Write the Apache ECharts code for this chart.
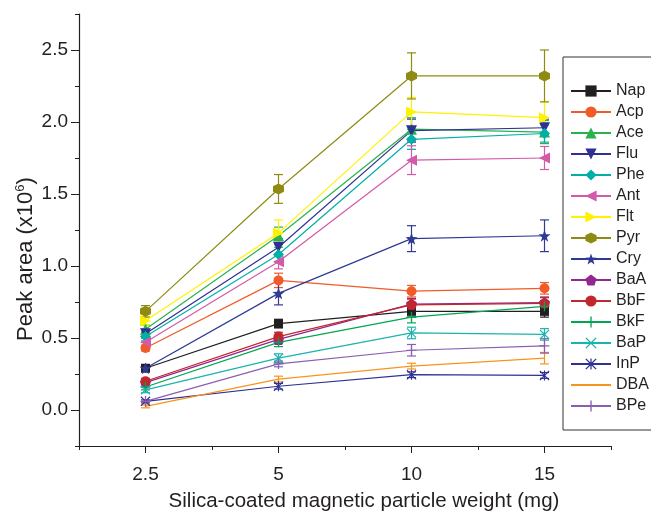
<!DOCTYPE html>
<html>
<head>
<meta charset="utf-8">
<script src="https://cdn.jsdelivr.net/npm/echarts@6/dist/echarts.min.js"></script>
<style>
  html, body { margin: 0; padding: 0; background: #fff; }
  #chart { width: 651px; height: 517px; }
</style>
</head>
<body>
<div id="chart"></div>
<script>
// x categories (sorbent weight, mg) placed at positions 1..4
const xLabels = ['2.5', '5', '10', '15']
const xPos = [1, 2, 3, 4]
const yTicks = [0, 0.5, 1, 1.5, 2, 2.5]

const names = ['Nap', 'Acp', 'Ace', 'Flu', 'Phe', 'Ant', 'Flt', 'Pyr', 'Cry', 'BaA', 'BbF', 'BkF', 'BaP', 'InP', 'DBA', 'BPe']

// peak area (x10^6)
const nap = [0.29, 0.60, 0.685, 0.685]
const acp = [0.43, 0.90, 0.825, 0.845]
const ace = [0.56, 1.21, 1.95, 1.93]
const flu = [0.53, 1.13, 1.94, 1.96]
const phe = [0.51, 1.08, 1.88, 1.92]
const ant = [0.47, 1.03, 1.735, 1.75]
const flt = [0.62, 1.23, 2.07, 2.03]
const pyr = [0.685, 1.535, 2.32, 2.32]
const cry = [0.29, 0.81, 1.19, 1.21]
const baa = [0.19, 0.49, 0.735, 0.745]
const bbf = [0.20, 0.51, 0.73, 0.74]
const bkf = [0.16, 0.47, 0.645, 0.72]
const bap = [0.14, 0.36, 0.535, 0.525]
const inp = [0.06, 0.165, 0.245, 0.24]
const dba = [0.025, 0.215, 0.305, 0.36]
const bpe = [0.06, 0.32, 0.415, 0.445]

// error bars (+/-)
const napErr = [0.02, 0.03, 0.04, 0.04]
const acpErr = [0.02, 0.05, 0.04, 0.04]
const aceErr = [0.03, 0.06, 0.08, 0.08]
const fluErr = [0.03, 0.06, 0.08, 0.06]
const pheErr = [0.03, 0.05, 0.07, 0.06]
const antErr = [0.03, 0.05, 0.10, 0.08]
const fltErr = [0.03, 0.09, 0.10, 0.11]
const pyrErr = [0.04, 0.10, 0.16, 0.18]
const cryErr = [0.02, 0.08, 0.09, 0.11]
const baaErr = [0.02, 0.03, 0.04, 0.04]
const bbfErr = [0.02, 0.03, 0.04, 0.04]
const bkfErr = [0.02, 0.03, 0.04, 0.04]
const bapErr = [0.02, 0.03, 0.04, 0.04]
const inpErr = [0.01, 0.02, 0.02, 0.02]
const dbaErr = [0.01, 0.02, 0.02, 0.04]
const bpeErr = [0.01, 0.02, 0.04, 0.05]

const values = [nap, acp, ace, flu, phe, ant, flt, pyr, cry, baa, bbf, bkf, bap, inp, dba, bpe]
const errors = [napErr, acpErr, aceErr, fluErr, pheErr, antErr, fltErr, pyrErr, cryErr, baaErr, bbfErr, bkfErr, bapErr, inpErr, dbaErr, bpeErr]

// symbol paths
const HEX = 'path://M5,0L9.33,2.5L9.33,7.5L5,10L0.67,7.5L0.67,2.5Z'
const STAR = 'path://M5,0L6.18,3.38L9.76,3.45L6.9,5.62L7.94,9.05L5,7L2.06,9.05L3.1,5.62L0.24,3.45L3.82,3.38Z'
const PENT = 'path://M5,0L9.76,3.45L7.94,9.05L2.06,9.05L0.24,3.45Z'
const PLUS = 'path://M4.4,0H5.6V4.4H10V5.6H5.6V10H4.4V5.6H0V4.4H4.4Z'
const CROSS = 'path://M0,0.8L0.8,0L5,4.2L9.2,0L10,0.8L5.8,5L10,9.2L9.2,10L5,5.8L0.8,10L0,9.2L4.2,5Z'
const ASTER = 'path://M0,0.8L0.8,0L5,4.2L9.2,0L10,0.8L5.8,5L10,9.2L9.2,10L5,5.8L0.8,10L0,9.2L4.2,5Z M4.45,0H5.55V10H4.45Z'

const styles = [
  { color: '#231f20', symbol: 'rect', size: 9 },
  { color: '#f15a29', symbol: 'circle', size: 10 },
  { color: '#2bb24c', symbol: 'triangle', size: 11 },
  { color: '#2e3192', symbol: 'triangle', size: 11, rotate: 180 },
  { color: '#00b0a8', symbol: 'diamond', size: 11 },
  { color: '#d25aa8', symbol: 'triangle', size: 11, rotate: 90 },
  { color: '#fff200', symbol: 'triangle', size: 11, rotate: -90 },
  { color: '#8f8b12', symbol: HEX, size: 11 },
  { color: '#2e3a94', symbol: STAR, size: 12 },
  { color: '#92278f', symbol: PENT, size: 11 },
  { color: '#c1272d', symbol: 'circle', size: 10 },
  { color: '#00a651', symbol: PLUS, size: 10 },
  { color: '#1ab3ad', symbol: CROSS, size: 10 },
  { color: '#2e3192', symbol: ASTER, size: 10 },
  { color: '#f7941d', symbol: 'none', size: 0 },
  { color: '#8a5fb0', symbol: PLUS, size: 10 },
]

const font = '"Liberation Sans", Arial, sans-serif'

const lineSeries = names.map((name, i) => ({
  name: name,
  type: 'line',
  xAxisIndex: 0,
  yAxisIndex: 0,
  data: xPos.map((x, j) => [x, values[i][j]]),
  symbol: styles[i].symbol,
  symbolSize: styles[i].size,
  symbolRotate: styles[i].rotate || 0,
  showSymbol: styles[i].symbol !== 'none',
  itemStyle: { color: styles[i].color },
  lineStyle: { color: styles[i].color, width: 1.2 },
  emphasis: { disabled: true },
  animation: false,
  z: 3,
}))

const errorSeries = names.map((name, i) => ({
  type: 'custom',
  xAxisIndex: 0,
  yAxisIndex: 0,
  data: xPos.map((x, j) => [x, values[i][j], errors[i][j]]),
  encode: { x: 0, y: 1 },
  renderItem: (params, api) => {
    const x = api.value(0)
    const y = api.value(1)
    const e = api.value(2)
    const top = api.coord([x, y + e])
    const bot = api.coord([x, y - e])
    const w = 4.5
    const style = { stroke: styles[i].color, lineWidth: 1.2 }
    return {
      type: 'group',
      children: [
        { type: 'line', shape: { x1: top[0], y1: top[1], x2: bot[0], y2: bot[1] }, style },
        { type: 'line', shape: { x1: top[0] - w, y1: top[1], x2: top[0] + w, y2: top[1] }, style },
        { type: 'line', shape: { x1: bot[0] - w, y1: bot[1], x2: bot[0] + w, y2: bot[1] }, style },
      ],
    }
  },
  silent: true,
  animation: false,
  z: 2,
}))

// DBA has no marker: hide its legend symbol, keep the line
const legendData = names.map((name) =>
  name === 'DBA' ? { name: name, itemStyle: { opacity: 0 } } : name
)

const chart = echarts.init(document.getElementById('chart'))

const option = {
  backgroundColor: '#fff',
  animation: false,
  grid: { left: 79, right: 40, top: 14, bottom: 65, containLabel: false },
  legend: {
    data: legendData,
    orient: 'vertical',
    left: 563,
    top: 57,
    itemWidth: 40,
    itemHeight: 14,
    itemGap: 5,
    padding: [26, 6, 16, 7],
    borderColor: '#333',
    borderWidth: 1,
    textStyle: { fontFamily: font, fontSize: 16, color: '#231f20' },
    selectedMode: false,
  },
  xAxis: [
    {
      type: 'value',
      min: 0.5,
      max: 4.5,
      interval: 0.5,
      axisLine: { onZero: false, lineStyle: { color: '#231f20', width: 1.2 } },
      axisTick: { length: 4, lineStyle: { color: '#231f20' } },
      axisLabel: { show: false },
      splitLine: { show: false },
    },
    {
      type: 'value',
      position: 'bottom',
      min: 0.5,
      max: 4.5,
      axisLine: { show: false, onZero: false },
      axisTick: { customValues: xPos, length: 7, lineStyle: { color: '#231f20' } },
      axisLabel: {
        customValues: xPos,
        formatter: (v) => xLabels[xPos.indexOf(v)],
        fontFamily: font,
        fontSize: 19,
        color: '#231f20',
        margin: 19,
      },
      splitLine: { show: false },
      name: 'Silica-coated magnetic particle weight (mg)',
      nameLocation: 'middle',
      nameGap: 45,
      nameTextStyle: { fontFamily: font, fontSize: 20.5, color: '#231f20', padding: [0, 0, 0, 38] },
    },
  ],
  yAxis: [
    {
      type: 'value',
      min: -0.25,
      max: 2.75,
      interval: 0.25,
      axisLine: { show: true, onZero: false, lineStyle: { color: '#231f20', width: 1.2 } },
      axisTick: { show: true, length: 4, lineStyle: { color: '#231f20' } },
      axisLabel: { show: false },
      splitLine: { show: false },
    },
    {
      type: 'value',
      position: 'left',
      min: -0.25,
      max: 2.75,
      axisLine: { show: false, onZero: false },
      axisTick: { show: true, customValues: yTicks, length: 8, lineStyle: { color: '#231f20' } },
      axisLabel: {
        customValues: yTicks,
        formatter: (v) => v.toFixed(1),
        fontFamily: font,
        fontSize: 19,
        color: '#231f20',
        margin: 11,
      },
      splitLine: { show: false },
      name: '{a|Peak area (x10}{b|6}{a|)}',
      nameLocation: 'middle',
      nameGap: 42,
      nameMoveOverlap: false,
      nameTextStyle: {
        padding: [0, 58, 0, 0],
        rich: {
          a: { fontFamily: font, fontSize: 22, color: '#231f20' },
          b: { fontFamily: font, fontSize: 13, color: '#231f20', verticalAlign: 'top', padding: [0, 0, 10, 0] },
        },
      },
    },
  ],
  series: [...errorSeries, ...lineSeries],
}

chart.setOption(option)
</script>
</body>
</html>
